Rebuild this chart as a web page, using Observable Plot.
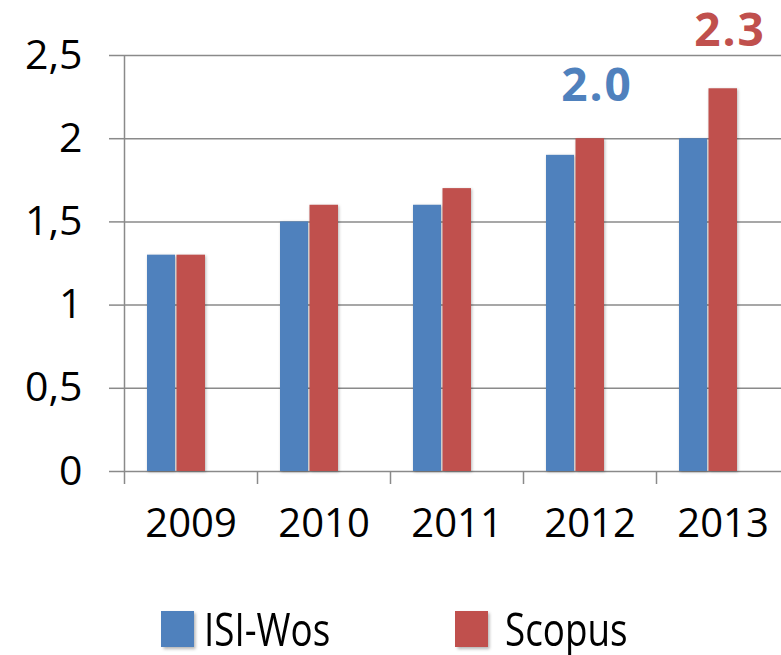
<!DOCTYPE html>
<html><head><meta charset="utf-8">
<script src="https://cdn.jsdelivr.net/npm/d3@7"></script>
<script src="https://cdn.jsdelivr.net/npm/@observablehq/plot@0.6"></script>
<style>
html,body{margin:0;padding:0;background:#fff;overflow:hidden;}
body{font-family:"Open Sans",sans-serif;}
#chart svg{display:block;}
g[aria-label="bar"] rect{filter:drop-shadow(1.5px 1px 1.5px rgba(0,0,0,0.28));}
g[aria-label="text"] text{letter-spacing:2px;}
.legend{position:relative;width:781px;height:75px;}
.sw{position:absolute;top:31px;width:33px;height:36px;box-shadow:1.5px 2px 3px rgba(0,0,0,0.3);}
.lt{position:absolute;top:24px;font-size:46px;line-height:48px;color:#000;transform:scaleX(0.8);transform-origin:left center;white-space:nowrap;}
</style></head><body>
<div id="chart"></div>
<script>
const years = ["2009", "2010", "2011", "2012", "2013"];
const isiWos = [1.3, 1.5, 1.6, 1.9, 2.0];
const scopus = [1.3, 1.6, 1.7, 2.0, 2.3];
const yTicks = [0, 0.5, 1, 1.5, 2, 2.5];
const seriesNames = ["ISI-Wos", "Scopus"];
const seriesColors = ["#4F81BD", "#C0504D"];
const annYears = ["2012", "2013"];
const annValues = [2.0, 2.3];
const annLabels = ["2.0", "2.3"];
const annColors = ["#4F81BD", "#C0504D"];

const data = years.map((yr, i) => ({year: yr, isi: isiWos[i], scopus: scopus[i]}));
const gray = "#8a8a8a";
const half = 66.5;

const marks = [
  Plot.gridY(yTicks, {stroke: gray, strokeOpacity: 1, strokeWidth: 1.5}),
  Plot.axisY(yTicks, {tickSize: 15, tickPadding: 27, stroke: gray, strokeWidth: 1.5, fontSize: 41,
    label: null, tickFormat: d => String(d).replace(".", ",")}),
  Plot.ruleX([years[0]], {x: d => d, dx: -half, y1: 0, y2: 2.5, stroke: gray, strokeWidth: 1.5}),
  Plot.axisX({tickSize: 13, dx: -half, stroke: gray, strokeWidth: 1.5, label: null, tickFormat: () => ""}),
  Plot.axisX({tickSize: 0, tickPadding: 37, fontSize: 40, label: null}),
  Plot.barY(data, {x: "year", y: "isi", fill: seriesColors[0], insetLeft: 23, insetRight: 82}),
  Plot.barY(data, {x: "year", y: "scopus", fill: seriesColors[1], insetLeft: 52.5, insetRight: 52})
];
const annDy = [-52, -58];
annYears.forEach((yr, i) => {
  marks.push(Plot.text([i], {x: () => annYears[i], y: () => annValues[i], text: () => annLabels[i],
    fill: annColors[i], fontSize: 46, fontWeight: "bold", dx: 7, dy: annDy[i]}));
});

const chart = Plot.plot({
  width: 781,
  height: 580,
  marginLeft: 124,
  marginRight: 0,
  marginTop: 55,
  marginBottom: 109,
  style: {fontFamily: "Open Sans", color: "#000", background: "#fff", overflow: "hidden"},
  x: {domain: years, range: [124, 789], padding: 0, axis: null},
  y: {domain: [0, 2.5], range: [471, 55], axis: null},
  marks
});
document.getElementById("chart").appendChild(chart);

const legend = document.createElement("div");
legend.className = "legend";
const swLeft = [161, 455];
const txLeft = [204, 505];
seriesNames.forEach((name, i) => {
  const sw = document.createElement("div");
  sw.className = "sw";
  sw.style.left = swLeft[i] + "px";
  sw.style.background = seriesColors[i];
  legend.appendChild(sw);
  const t = document.createElement("div");
  t.className = "lt";
  t.style.left = txLeft[i] + "px";
  t.textContent = name;
  legend.appendChild(t);
});
document.body.appendChild(legend);
</script>
</body></html>
